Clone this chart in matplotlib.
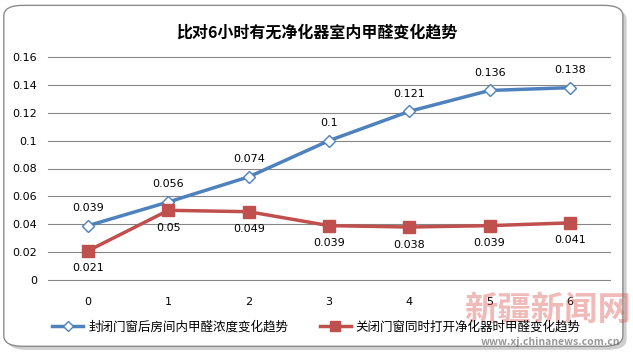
import matplotlib.pyplot as plt
from matplotlib.patches import FancyBboxPatch

plt.rcParams['font.family'] = ['Noto Sans CJK SC', 'DejaVu Sans']

hours = ['0', '1', '2', '3', '4', '5', '6']
closed = [0.039, 0.056, 0.074, 0.1, 0.121, 0.136, 0.138]
purifier = [0.021, 0.05, 0.049, 0.039, 0.038, 0.039, 0.041]
closed_name = '封闭门窗后房间内甲醛浓度变化趋势'
purifier_name = '关闭门窗同时打开净化器时甲醛变化趋势'
title = '比对6小时有无净化器室内甲醛变化趋势'

fig = plt.figure(figsize=(6.33, 3.57), dpi=100)

# rounded frame with a soft shadow, kept behind the axes
shadow = FancyBboxPatch((0.012, 0.02), 0.978, 0.955, boxstyle='round,pad=0,rounding_size=0.03',
                        transform=fig.transFigure, facecolor='#b0b0b0', edgecolor='none',
                        alpha=0.6, zorder=-3)
frame = FancyBboxPatch((0.006, 0.03), 0.978, 0.955, boxstyle='round,pad=0,rounding_size=0.03',
                       transform=fig.transFigure, facecolor='white', edgecolor='#8c8c8c',
                       linewidth=1, zorder=-2)
fig.patches.extend([shadow, frame])

ax = fig.add_axes([48 / 633, 1 - 280 / 357, (610 - 48) / 633, (280 - 57) / 357])
ax.set_facecolor('none')
x = range(len(hours))

ax.plot(x, closed, color='#4f81bd', lw=2.5, marker='D', ms=6, mfc='white', mec='#4f81bd',
        mew=1, label=closed_name, zorder=3)
ax.plot(x, purifier, color='#c0504d', lw=2.5, marker='s', ms=9, mfc='#c0504d', mec='#c0504d',
        label=purifier_name, zorder=3)

for i, v in enumerate(closed):
    ax.annotate(f'{v:g}', (i, v), xytext=(0, 9), textcoords='offset points',
                ha='center', va='bottom', fontsize=8, family='DejaVu Sans')
for i, v in enumerate(purifier):
    ax.annotate(f'{v:g}', (i, v), xytext=(0, -9), textcoords='offset points',
                ha='center', va='top', fontsize=8, family='DejaVu Sans')

ax.set_xlim(-0.5, len(hours) - 0.5)
ax.set_ylim(0, 0.16)
ax.set_yticks([0, 0.02, 0.04, 0.06, 0.08, 0.1, 0.12, 0.14, 0.16])
ax.set_yticklabels(['0', '0.02', '0.04', '0.06', '0.08', '0.1', '0.12', '0.14', '0.16'])
ax.set_xticks(list(x))
ax.set_xticklabels(hours)
ax.tick_params(length=0, labelsize=8, pad=12)
ax.tick_params(axis='y', pad=8)
for lbl in ax.get_xticklabels() + ax.get_yticklabels():
    lbl.set_family('DejaVu Sans')
ax.grid(axis='y', color='#868686', lw=0.8)
for gl in ax.get_ygridlines():
    gl.set_clip_on(False)
ax.set_axisbelow(True)
for s in ax.spines.values():
    s.set_visible(False)

fig.text(0.5, 1 - 33 / 357, title, ha='center', va='center', fontsize=11.5, fontweight='bold')

fig.legend(loc='center', bbox_to_anchor=(0.5, 1 - 327 / 357), ncol=2, frameon=False,
           fontsize=9, handlelength=2.5, columnspacing=2.5, handletextpad=0.4, markerscale=0.8)

# site watermark
fig.text(0.865, 1 - 310 / 357, '新疆新闻网', ha='center', va='center', fontsize=24,
         fontweight='bold', color='#d9534f', alpha=0.4)
fig.text(0.87, 1 - 342 / 357, 'www.xj.chinanews.com.cn', ha='center', va='center', fontsize=7.5,
         fontweight='bold', color='#555555', alpha=0.6)

fig.savefig('out.png', dpi=100)
